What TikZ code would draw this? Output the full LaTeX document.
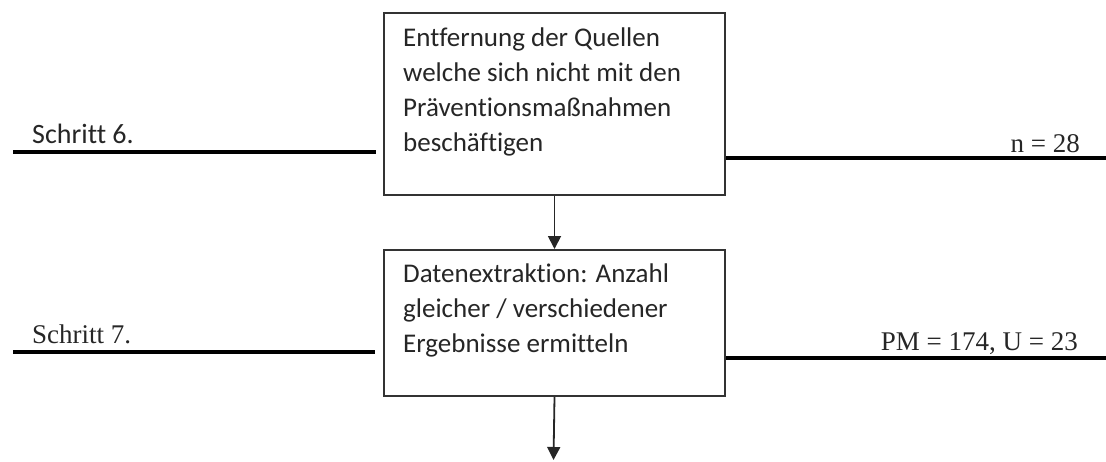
\documentclass[tikz,border=0pt]{standalone}
\usepackage{fontspec}
\setmainfont{Liberation Serif}
\newfontfamily\boxfont{Carlito}[Ligatures={NoCommon}]
\usetikzlibrary{arrows.meta}

\begin{document}
\begin{tikzpicture}[x=1pt,y=-1pt,
  stepbox/.style={draw=black!80, line width=2pt, fill=white, inner sep=0pt,
    minimum width=341pt, anchor=north west},
  boxtext/.style={anchor=base west, inner sep=0pt, text=black!85},
  rule/.style={line width=3.2pt, black},
  flow/.style={line width=1.8pt, black!85, -{Triangle[length=13pt,width=13pt]}},
  sidelabel/.style={anchor=base west, inner sep=0pt, text=black!85},
  countlabel/.style={anchor=base east, inner sep=0pt, text=black!85,
    font=\fontsize{27}{30}\selectfont}]

\useasboundingbox (0,0) rectangle (1106,461);

% step boxes
\node[stepbox, minimum height=182pt] (box1) at (383,12) {};
\node[stepbox, minimum height=146pt] (box2) at (383,249) {};

% box texts
\node[boxtext] (txt1) at (403,46) {\parbox[t]{310pt}{\boxfont\fontsize{27}{35}\selectfont
  Entfernung der Quellen\\welche sich nicht mit den\\Präventionsmaßnahmen\\beschäftigen}};
\node[boxtext] (txt2) at (403,282) {\parbox[t]{310pt}{\boxfont\fontsize{27}{35}\selectfont
  Datenextraktion: Anzahl\\gleicher / verschiedener\\Ergebnisse ermitteln}};

% row rules
\coordinate (l1a) at (13,152);
\coordinate (l1b) at (376,152);
\coordinate (r1) at (1106,158);
\coordinate (l2a) at (13,352);
\coordinate (l2b) at (375,352);
\coordinate (r2) at (1106,358);
\draw[rule] (l1a) -- (l1b);
\draw[rule] (box1.east |- r1) -- (r1);
\draw[rule] (l2a) -- (l2b);
\draw[rule] (box2.east |- r2) -- (r2);

% labels
\node[sidelabel, font=\boxfont\fontsize{28}{30}\selectfont] (s6) at (32,143) {Schritt 6.};
\node[sidelabel, font=\fontsize{27}{30}\selectfont] (s7) at (32,343) {Schritt 7.};
\node[countlabel] (n6) at (1080,152) {n = 28};
\node[countlabel] (n7) at (1078,350) {PM = 174, U = 23};

% flow arrows
\coordinate (out) at (553.5,460);
\draw[flow] (box1.south) -- (box2.north);
\draw[flow] (box2.south) -- (out);
\end{tikzpicture}
\end{document}
